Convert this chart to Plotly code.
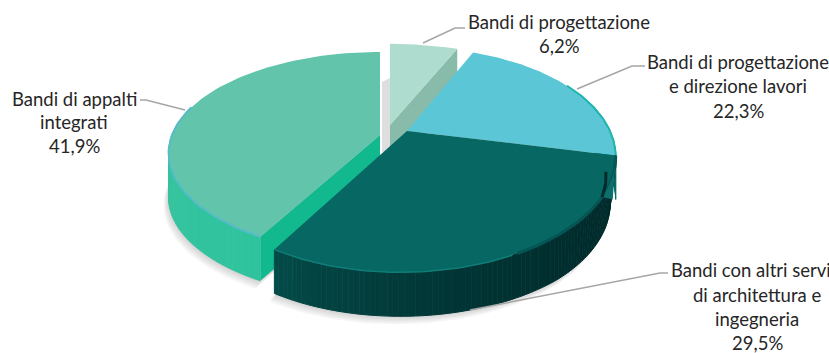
import numpy as np
import plotly.graph_objects as go

# --- data -------------------------------------------------------------
categories = ["Bandi di progettazione", "Bandi di progettazione e direzione lavori",
              "Bandi con altri servizi di architettura e ingegneria", "Bandi di appalti integrati"]
shares = [6.2, 22.3, 29.5, 41.9]
share_labels = ["6,2%", "22,3%", "29,5%", "41,9%"]

# --- drawing geometry and style (3-D look of the pie) ------------------
W, H = 829, 353
DEPTH = 44
slices = [
    dict(cx=390, cy=125, rx=219, ry=102, k=.257, sh=0, top="#aedccf", cut="#88bba9", side=["#88bba9", "#88bba9"], rim="#aedccf"),
    dict(cx=407, cy=131, rx=203, ry=105, k=.257, sh=5, top="#5ac6d6", cut="#0d6e6b", side=["#0d6e6b", "#0a6a67"], rim="#1fb5ac"),
    dict(cx=407, cy=131, rx=203, ry=105, k=.257, sh=5, top="#066763", cut="#066763", side=["#002a2b", "#034b48"], rim="#0f7e79"),
    dict(cx=380, cy=135, rx=208, ry=98, k=.18, sh=0, top="#62c4ab", cut="#12b98f", side=["#2fc39d", "#3ec6a2"], rim="#58bcc8"),
]
label_lines = [
    (["Bandi di progettazione", "6,2%"], 559, [22, 46]),
    (["Bandi di progettazione", "e direzione lavori", "22,3%"], 738, [62, 86, 111]),
    (["Bandi con altri servizi", "di architettura e", "ingegneria", "29,5%"], 757, [270, 295, 319, 343]),
    (["Bandi di appalti", "integrati", "41,9%"], 74, [99, 122, 146]),
]
leaders = [
    ([423, 455, 465], [43, 28, 28]),
    ([577, 632, 645], [89, 66, 66]),
    ([470, 660, 668], [310, 273, 273]),
    ([185, 146, 140], [110, 100, 100]),
]

total = sum(shares)
edges = np.cumsum([0] + shares) / total * 2 * np.pi


def proj(s, th, drop=0.0, dx=0.0):
    X, Y = np.sin(th), np.cos(th)
    f = 1 / (1 + s["k"] * Y)
    return s["cx"] + s["rx"] * X * f + s["sh"] * Y * f + dx, s["cy"] - s["ry"] * Y * f + drop


fig = go.Figure()


def poly(x, y, color, seam=False):
    fig.add_trace(go.Scatter(x=list(x), y=list(y), mode="lines", fill="toself", fillcolor=color,
                             line=dict(width=1 if seam else 0, color=color), hoverinfo="skip", showlegend=False))


def line(x, y, color, width):
    fig.add_trace(go.Scatter(x=list(x), y=list(y), mode="lines", line=dict(color=color, width=width),
                             hoverinfo="skip", showlegend=False))


def mix(c1, c2, t):
    a = [int(c1[i:i + 2], 16) for i in (1, 3, 5)]
    b = [int(c2[i:i + 2], 16) for i in (1, 3, 5)]
    return "rgb(%d,%d,%d)" % tuple(round(p + (q - p) * t) for p, q in zip(a, b))


def arc(i, n=80):
    return np.linspace(edges[i], edges[i + 1], n)


def pull_in(th):
    # lower right rim of the dark slice tucks inward
    return -6 * np.clip((np.sin(th) - 0.6) / 0.4, 0, 1)


# soft shadows under the slices
for step in range(1, 6):
    for i in (1, 2, 3):
        s = slices[i]
        th = arc(i)
        xs, ys = proj(s, th, DEPTH + step * 1.6, -step * 1.0)
        poly(np.r_[s["cx"], xs + pull_in(th)], np.r_[s["cy"] + DEPTH, ys], "rgba(90,90,90,0.055)")
# shadow in the gap behind the exploded slices
poly([382, 390, 390, 382], [82, 78, 152, 152], "#dedede")


def side_faces(i, tuck=False, power=1.0):
    s = slices[i]
    th = arc(i, 90)
    for j in range(len(th) - 1):
        pair = th[j:j + 2]
        x, y = proj(s, pair)
        if np.cos(pair.mean()) > 0.25:
            continue
        xb, yb = proj(s, pair, DEPTH)
        if tuck:
            xb = xb + pull_in(pair)
        t = (j / (len(th) - 2)) ** power
        poly(np.r_[x, xb[::-1]], np.r_[y, yb[::-1]], mix(*s["side"], t), seam=True)


def top_face(i):
    s = slices[i]
    x, y = proj(s, arc(i))
    poly(np.r_[s["cx"], x], np.r_[s["cy"], y], s["top"])
    return x, y


# pale slice with its visible cut face
s = slices[0]
xe, ye = proj(s, edges[1])
poly([s["cx"], xe, xe, s["cx"]], [s["cy"], ye, ye + DEPTH, s["cy"] + DEPTH], s["cut"])
top_face(0)

# left slice: rim, cut face, top
side_faces(3)
s = slices[3]
xe, ye = proj(s, edges[3])
poly([s["cx"], xe, xe, s["cx"]], [s["cy"], ye, ye + DEPTH, s["cy"] + DEPTH], s["cut"])
x, y = top_face(3)
mask = np.cos(arc(3)) < 0.3
line(x[mask], y[mask], s["rim"], 2)

# blue slice
side_faces(1)
x, y = top_face(1)
mask = np.cos(arc(1)) < 0.5
line(x[mask], y[mask], slices[1]["rim"], 2)

# dark slice
side_faces(2, tuck=True, power=2.2)
x, y = top_face(2)
th = arc(2)
far = th > edges[2] + 0.9
line(x[~far], y[~far], "#045553", 3)
line(x[far], y[far], slices[2]["rim"], 1.5)

# blue slice's side showing past the dark slice at the right
s = slices[1]
tab = np.linspace(edges[2], edges[2] + 0.35, 20)
tx, ty = proj(s, tab)
bx, by = proj(s, edges[2], DEPTH)
poly(np.r_[tx, bx - 3], np.r_[ty, by], s["cut"])
sx, sy = proj(s, np.linspace(edges[2] + 0.14, edges[2] + 0.35, 8), 0, -8 * np.linspace(1, 0, 8))
line(sx, sy, "#002a2b", 3)

# leader lines
for lx, ly in leaders:
    line(lx, ly, "#a6a6a6", 1.5)

# labels
for lines, xc, ys in label_lines:
    for t, yc in zip(lines, ys):
        fig.add_annotation(x=xc, y=yc, text=t, showarrow=False, xanchor="center", yanchor="middle",
                           font=dict(family="Lato", size=18.5, color="#262626"))

fig.update_layout(
    width=W, height=H, margin=dict(l=0, r=0, t=0, b=0), paper_bgcolor="white", plot_bgcolor="white",
    xaxis=dict(range=[0, W], visible=False, fixedrange=True),
    yaxis=dict(range=[H, 0], visible=False, fixedrange=True),
    showlegend=False,
)
fig.write_html("out.html", config={"displayModeBar": False},
               post_script="document.body.style.margin='0';document.body.style.overflow='hidden';")
